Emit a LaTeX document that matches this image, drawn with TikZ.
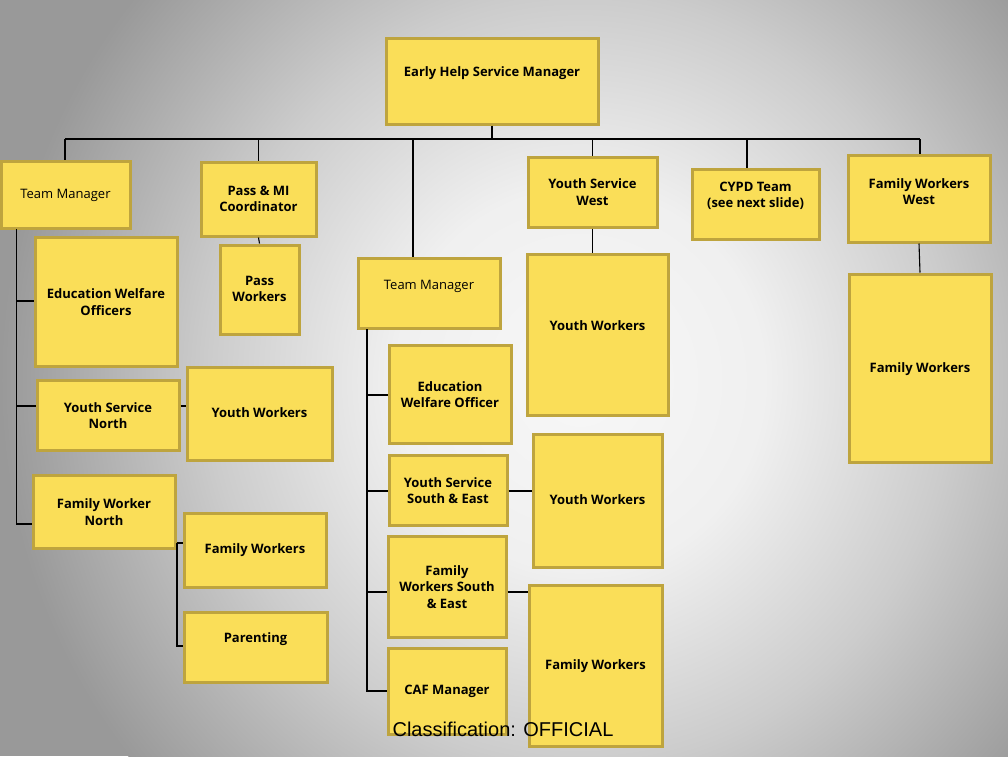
\documentclass[tikz,border=0pt]{standalone}
\usepackage{fontspec}
\setmainfont{Open Sans}
\newfontfamily\arialf{Liberation Sans}
\usetikzlibrary{calc}
\definecolor{boxfill}{RGB}{250,222,88}
\definecolor{boxline}{RGB}{190,164,62}
\definecolor{bgout}{rgb}{0.6,0.6,0.6}
\pgfdeclareradialshading{bgshade}{\pgfpoint{0bp}{0bp}}{rgb(0bp)=(0.97,0.97,0.97); rgb(8bp)=(0.94,0.94,0.94); rgb(16bp)=(0.8,0.8,0.8); rgb(25bp)=(0.6,0.6,0.6); rgb(50bp)=(0.6,0.6,0.6)}
\tikzset{
  box/.style={draw=boxline, fill=boxfill, line width=3pt, inner sep=0pt, rectangle},
  lbl/.style={align=center, inner sep=0pt, text=black},
  conn/.style={draw=black, line width=1.1pt},
}
\newcommand\bfl{\fontsize{13}{16.5}\selectfont\bfseries}
\newcommand\rgl{\fontsize{13}{16.5}\selectfont}
\newcommand\orgbox[8]{%
  \node[box, minimum width={#4-#2-2}, minimum height={#5-#3-2}] (#1) at ({(#2+#4)/2},{(#3+#5)/2}) {};
  \node[lbl, font=#7] (#1-t) at ({(#2+#4)/2},#6) {#8};
}
\begin{document}
\begin{tikzpicture}[x=1pt,y=-1pt]
\useasboundingbox (0,0) rectangle (1008,756);
\fill[bgout] (0,0) rectangle (1008,756);
\shade[shading=bgshade] (580,380) ellipse [x radius=580pt, y radius=600pt];

\orgbox{ehm}{385}{37}{599}{125}{73}{\bfl}{Early Help Service Manager}
\orgbox{tm1}{0}{160}{131}{229}{195}{\rgl}{Team Manager}
\orgbox{pmi}{200}{161}{317}{237}{199}{\bfl}{Pass \& MI\\Coordinator}
\orgbox{ysw}{527}{156}{658}{228}{192}{\bfl}{Youth Service\\West}
\orgbox{cypd}{691}{168}{820}{240}{196}{\bfl}{CYPD Team\\(see next slide)}
\orgbox{fww}{847}{154}{991}{243}{191.5}{\bfl}{Family Workers\\West}
\orgbox{ewo}{34}{236}{178}{367}{302}{\bfl}{Education Welfare\\Officers}
\orgbox{pw}{219}{244}{300}{335}{289}{\bfl}{Pass\\Workers}
\orgbox{tm2}{357}{257}{501}{329}{286}{\rgl}{Team Manager}
\orgbox{yw1}{526}{253}{669}{416}{326}{\bfl}{Youth Workers}
\orgbox{fw1}{848}{273}{992}{463}{369}{\bfl}{Family Workers}
\orgbox{ewo2}{388}{344}{512}{444}{394.5}{\bfl}{Education\\Welfare Officer}
\orgbox{ysn}{36}{379}{180}{451}{415.5}{\bfl}{Youth Service\\North}
\orgbox{ywl}{186}{366}{333}{461}{413}{\bfl}{Youth Workers}
\orgbox{fwn}{32}{474}{176}{549}{512}{\bfl}{Family Worker\\North}
\orgbox{ysse}{388}{454}{508}{526}{490.5}{\bfl}{Youth Service\\South \& East}
\orgbox{yw2}{532}{433}{663}{568}{500}{\bfl}{Youth Workers}
\orgbox{fwl}{183}{512}{327}{588}{550}{\bfl}{Family Workers}
\orgbox{fwse}{387}{535}{507}{638}{587}{\bfl}{Family\\Workers South\\\& East}
\orgbox{par}{183}{611}{328}{683}{639}{\bfl}{Parenting}
\orgbox{caf}{387}{647}{507}{735}{691}{\bfl}{CAF Manager}
\orgbox{fwm}{528}{584}{663}{747}{666}{\bfl}{Family Workers}

% top bus
\coordinate (busL) at (65,139);
\coordinate (busR) at (920,139);
\coordinate (c413) at (413,139);
\coordinate (c747) at (747,139);
\draw[conn] (busL) -- (busR);
\draw[conn] (ehm.south) -- (ehm.south |- busL);
\draw[conn] (busL) -- (busL |- tm1.north);
\draw[conn] (pmi.north) -- (pmi.north |- busL);
\draw[conn] (c413) -- (c413 |- tm2.north);
\draw[conn] (ysw.north) -- (ysw.north |- busL);
\draw[conn] (c747) -- (c747 |- cypd.north);
\draw[conn] (busR) -- (busR |- fww.north);
\draw[conn] (fww.south) -- (fw1.north);
\draw[conn] (pmi.south) -- (pw.north);
\draw[conn] (ysw.south) -- (ysw.south |- yw1.north);

% left tree
\coordinate (lv) at (16.5,229);
\coordinate (lvE) at (16.5,301);
\coordinate (lvY) at (16.5,406);
\coordinate (lvF) at (16.5,524);
\draw[conn] (lv) -- (lvF) -- (lvF -| fwn.west);
\draw[conn] (lvE) -- (lvE -| ewo.west);
\draw[conn] (lvY) -- (lvY -| ysn.west);
\draw[conn] (lvY -| ysn.east) -- (lvY -| ywl.west);
\coordinate (bt) at (177,543);
\coordinate (bb) at (177,646);
\draw[conn] (bt -| fwn.east) -- (bt -| fwl.west);
\draw[conn] (bt) -- (bb) -- (bb -| par.west);

% middle tree
\coordinate (mv) at (367,329);
\coordinate (mvE) at (367,395);
\coordinate (mvY) at (367,491);
\coordinate (mvF) at (367,592);
\coordinate (mvC) at (367,691);
\draw[conn] (mv) -- (mvC) -- (mvC -| caf.west);
\draw[conn] (mvE) -- (mvE -| ewo2.west);
\draw[conn] (mvY) -- (mvY -| ysse.west);
\draw[conn] (mvF) -- (mvF -| fwse.west);
\draw[conn] (mvY -| ysse.east) -- (mvY -| yw2.west);
\draw[conn] (mvF -| fwse.east) -- (mvF -| fwm.west);

\node[lbl, font=\arialf\fontsize{20}{24}\selectfont] (cls) at (503,729) {Classification: OFFICIAL};
\end{tikzpicture}
\end{document}
